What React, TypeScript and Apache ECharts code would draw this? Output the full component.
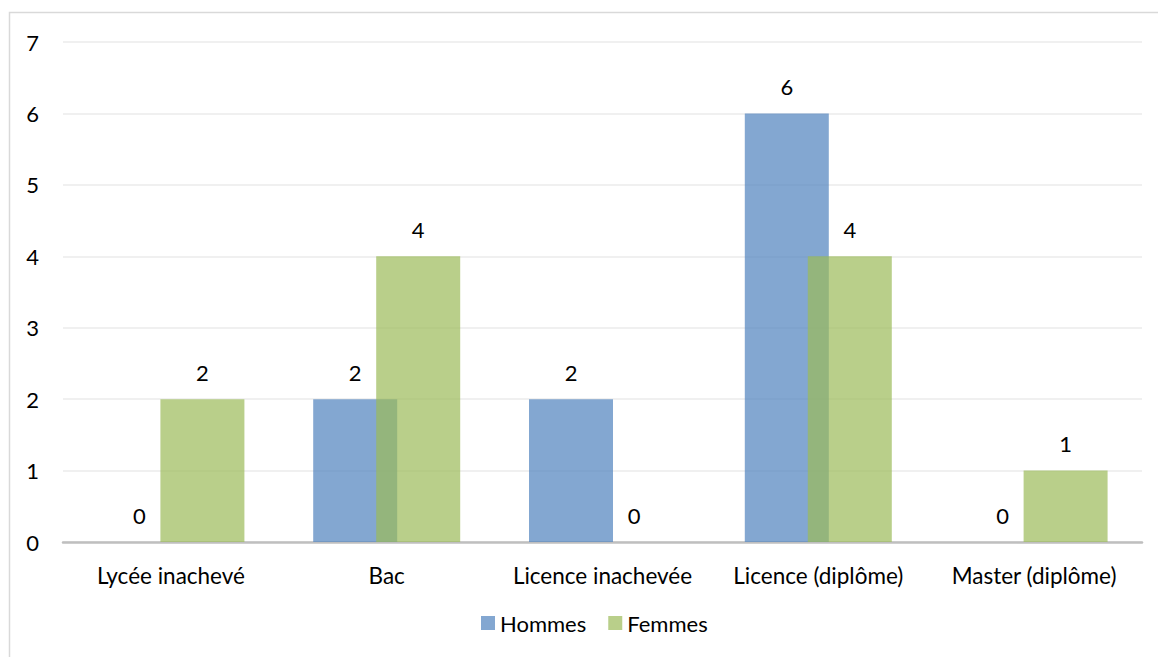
import React, { useEffect, useRef } from "react";
import * as echarts from "echarts";

const categories = ["Lycée inachevé", "Bac", "Licence inachevée", "Licence (diplôme)", "Master (diplôme)"];
const hommes = [0, 2, 2, 6, 0];
const femmes = [2, 4, 0, 4, 1];
const seriesNames = ["Hommes", "Femmes"];

export default function App() {
  const ref = useRef<HTMLDivElement>(null);
  useEffect(() => {
    if (!ref.current) return;
    const chart = echarts.init(ref.current, undefined, { renderer: "svg" });
    const font = "Lato";
    const labelStyle = { show: true, position: "top", distance: 16, color: "#000", fontSize: 22, fontFamily: font };
    chart.setOption({
      animation: false,
      textStyle: { fontFamily: font },
      graphic: [
        {
          type: "rect",
          shape: { x: 9.5, y: 12.5, width: 1160, height: 660 },
          style: { fill: "none", stroke: "#d9d9d9", lineWidth: 1.5 },
          silent: true,
        },
      ],
      grid: { left: 63, right: 16, top: 42, bottom: 115, containLabel: false },
      legend: {
        data: seriesNames,
        bottom: 18,
        left: 476,
        itemWidth: 14,
        itemHeight: 14,
        itemGap: 22,
        icon: "rect",
        textStyle: { fontSize: 22, color: "#000", fontFamily: font },
      },
      xAxis: {
        type: "category",
        data: categories,
        axisLine: { lineStyle: { color: "#bfbfbf", width: 2.5 } },
        axisTick: { show: false },
        axisLabel: { color: "#000", fontSize: 22.5, margin: 22, fontFamily: font, interval: 0 },
      },
      yAxis: {
        type: "value",
        min: 0,
        max: 7,
        interval: 1,
        axisLine: { show: false },
        axisTick: { show: false },
        splitLine: { lineStyle: { color: "#ebebeb", width: 1.5 } },
        axisLabel: { color: "#000", fontSize: 22, margin: 24, fontFamily: font },
      },
      series: [
        {
          name: seriesNames[0],
          type: "bar",
          data: hommes,
          barWidth: 84,
          barGap: "-25%",
          itemStyle: { color: "rgba(79,129,189,0.7)" },
          label: labelStyle,
        },
        {
          name: seriesNames[1],
          type: "bar",
          data: femmes,
          barWidth: 84,
          barGap: "-25%",
          itemStyle: { color: "rgba(155,187,89,0.7)" },
          label: labelStyle,
        },
      ],
    });
    return () => chart.dispose();
  }, []);
  return <div ref={ref} style={{ position: "fixed", left: 0, top: 0, width: 1158, height: 657, background: "#fff" }} />;
}
